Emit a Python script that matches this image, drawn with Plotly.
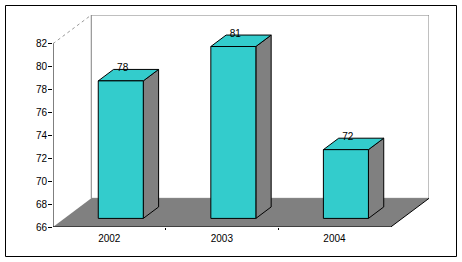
import plotly.graph_objects as go

# ---- data ----
categories = ["2002", "2003", "2004"]
values = [78, 81, 72]
y_ticks = [66, 68, 70, 72, 74, 76, 78, 80, 82]

Y_MIN, Y_MAX = 66, 82
DX, DY = 0.34, 2.5          # depth vector in axis units
BAR_L, BAR_R = 0.3, 0.7     # bar extent inside a category
Z_F, Z_B = 0.3, 0.7         # bar extent in depth

CYAN = "#33CCCC"
GRAY = "#808080"
FONT = "Liberation Sans, Arial, sans-serif"

W, H = 462, 262
ML, MT, PW, PH = 53, 15, 376, 212
MR, MB = W - ML - PW, H - MT - PH

n = len(categories)


def P(x, y, z):
    return x + z * DX, y + z * DY


def poly(pts):
    xs = [p[0] for p in pts] + [pts[0][0]]
    ys = [p[1] for p in pts] + [pts[0][1]]
    return xs, ys


fig = go.Figure()

# back wall
bx, by = poly([P(0, Y_MIN, 1), P(n, Y_MIN, 1), P(n, Y_MAX, 1), P(0, Y_MAX, 1)])
fig.add_trace(go.Scatter(x=bx, y=by, mode="lines", fill="toself", fillcolor="white",
                         line=dict(color=GRAY, width=1), hoverinfo="skip"))
# left wall top edge (dotted)
lx, ly = zip(P(0, Y_MAX, 0), P(0, Y_MAX, 1))
fig.add_trace(go.Scatter(x=list(lx), y=list(ly), mode="lines",
                         line=dict(color="#9a9a9a", width=1, dash="dot"), hoverinfo="skip"))
# floor
fx, fy = poly([P(0, Y_MIN, 0), P(n, Y_MIN, 0), P(n, Y_MIN, 1), P(0, Y_MIN, 1)])
fig.add_trace(go.Scatter(x=fx, y=fy, mode="lines", fill="toself", fillcolor=GRAY,
                         line=dict(color=GRAY, width=0), hoverinfo="skip"))
# floor right edge
rx, ry = zip(P(n, Y_MIN, 0), P(n, Y_MIN, 1))
fig.add_trace(go.Scatter(x=list(rx), y=list(ry), mode="lines",
                         line=dict(color="black", width=1), hoverinfo="skip"))

# bars
for i, v in enumerate(values):
    x0, x1 = i + BAR_L, i + BAR_R
    side = [P(x1, Y_MIN, Z_F), P(x1, Y_MIN, Z_B), P(x1, v, Z_B), P(x1, v, Z_F)]
    top = [P(x0, v, Z_F), P(x1, v, Z_F), P(x1, v, Z_B), P(x0, v, Z_B)]
    front = [P(x0, Y_MIN, Z_F), P(x1, Y_MIN, Z_F), P(x1, v, Z_F), P(x0, v, Z_F)]
    for pts, col in ((side, GRAY), (top, CYAN), (front, CYAN)):
        xs, ys = poly(pts)
        fig.add_trace(go.Scatter(x=xs, y=ys, mode="lines", fill="toself", fillcolor=col,
                                 line=dict(color="black", width=1), hoverinfo="skip"))

# data labels
fig.add_trace(go.Scatter(
    x=[i + 0.5 + 0.35 * DX for i in range(n)],
    y=[v + 0.72 * DY for v in values],
    mode="text", text=[str(v) for v in values],
    textfont=dict(family=FONT, size=10, color="black"),
    textposition="middle center", cliponaxis=False, hoverinfo="skip"))

# axis lines
fig.add_trace(go.Scatter(x=[0, 0], y=[Y_MIN, Y_MAX], mode="lines",
                         line=dict(color="black", width=1), hoverinfo="skip"))
fig.add_trace(go.Scatter(x=[0, n], y=[Y_MIN, Y_MIN], mode="lines",
                         line=dict(color="black", width=1), hoverinfo="skip"))

# outer border (pixel -> paper)
def px2paper_x(px):
    return (px - ML) / PW


def px2paper_y(py):
    return (MT + PH - py) / PH


fig.add_shape(type="rect", xref="paper", yref="paper",
              x0=px2paper_x(5.5), x1=px2paper_x(456.5),
              y0=px2paper_y(256.5), y1=px2paper_y(5.5),
              line=dict(color="black", width=1), layer="above")

fig.update_layout(
    width=W, height=H,
    margin=dict(l=ML, r=MR, t=MT, b=MB, pad=0),
    paper_bgcolor="white", plot_bgcolor="white",
    showlegend=False,
    font=dict(family=FONT, size=10, color="black"),
    xaxis=dict(range=[0, n + DX], tickvals=[i + 0.5 for i in range(n)], ticktext=categories,
               ticks="", showgrid=False, zeroline=False, showline=False,
               tickfont=dict(family=FONT, size=10, color="black"),
               ticklabelstandoff=4,
               minor=dict(tickvals=list(range(1, n)), ticks="outside", ticklen=2,
                          tickcolor="black", showgrid=False),
               fixedrange=True),
    yaxis=dict(range=[Y_MIN, Y_MAX + DY], tickvals=y_ticks, ticks="outside", ticklen=4,
               tickcolor="black", showgrid=False, zeroline=False, showline=False,
               tickfont=dict(family=FONT, size=10, color="black"),
               ticklabelstandoff=-1,
               fixedrange=True),
)

fig.write_html("out.html")
